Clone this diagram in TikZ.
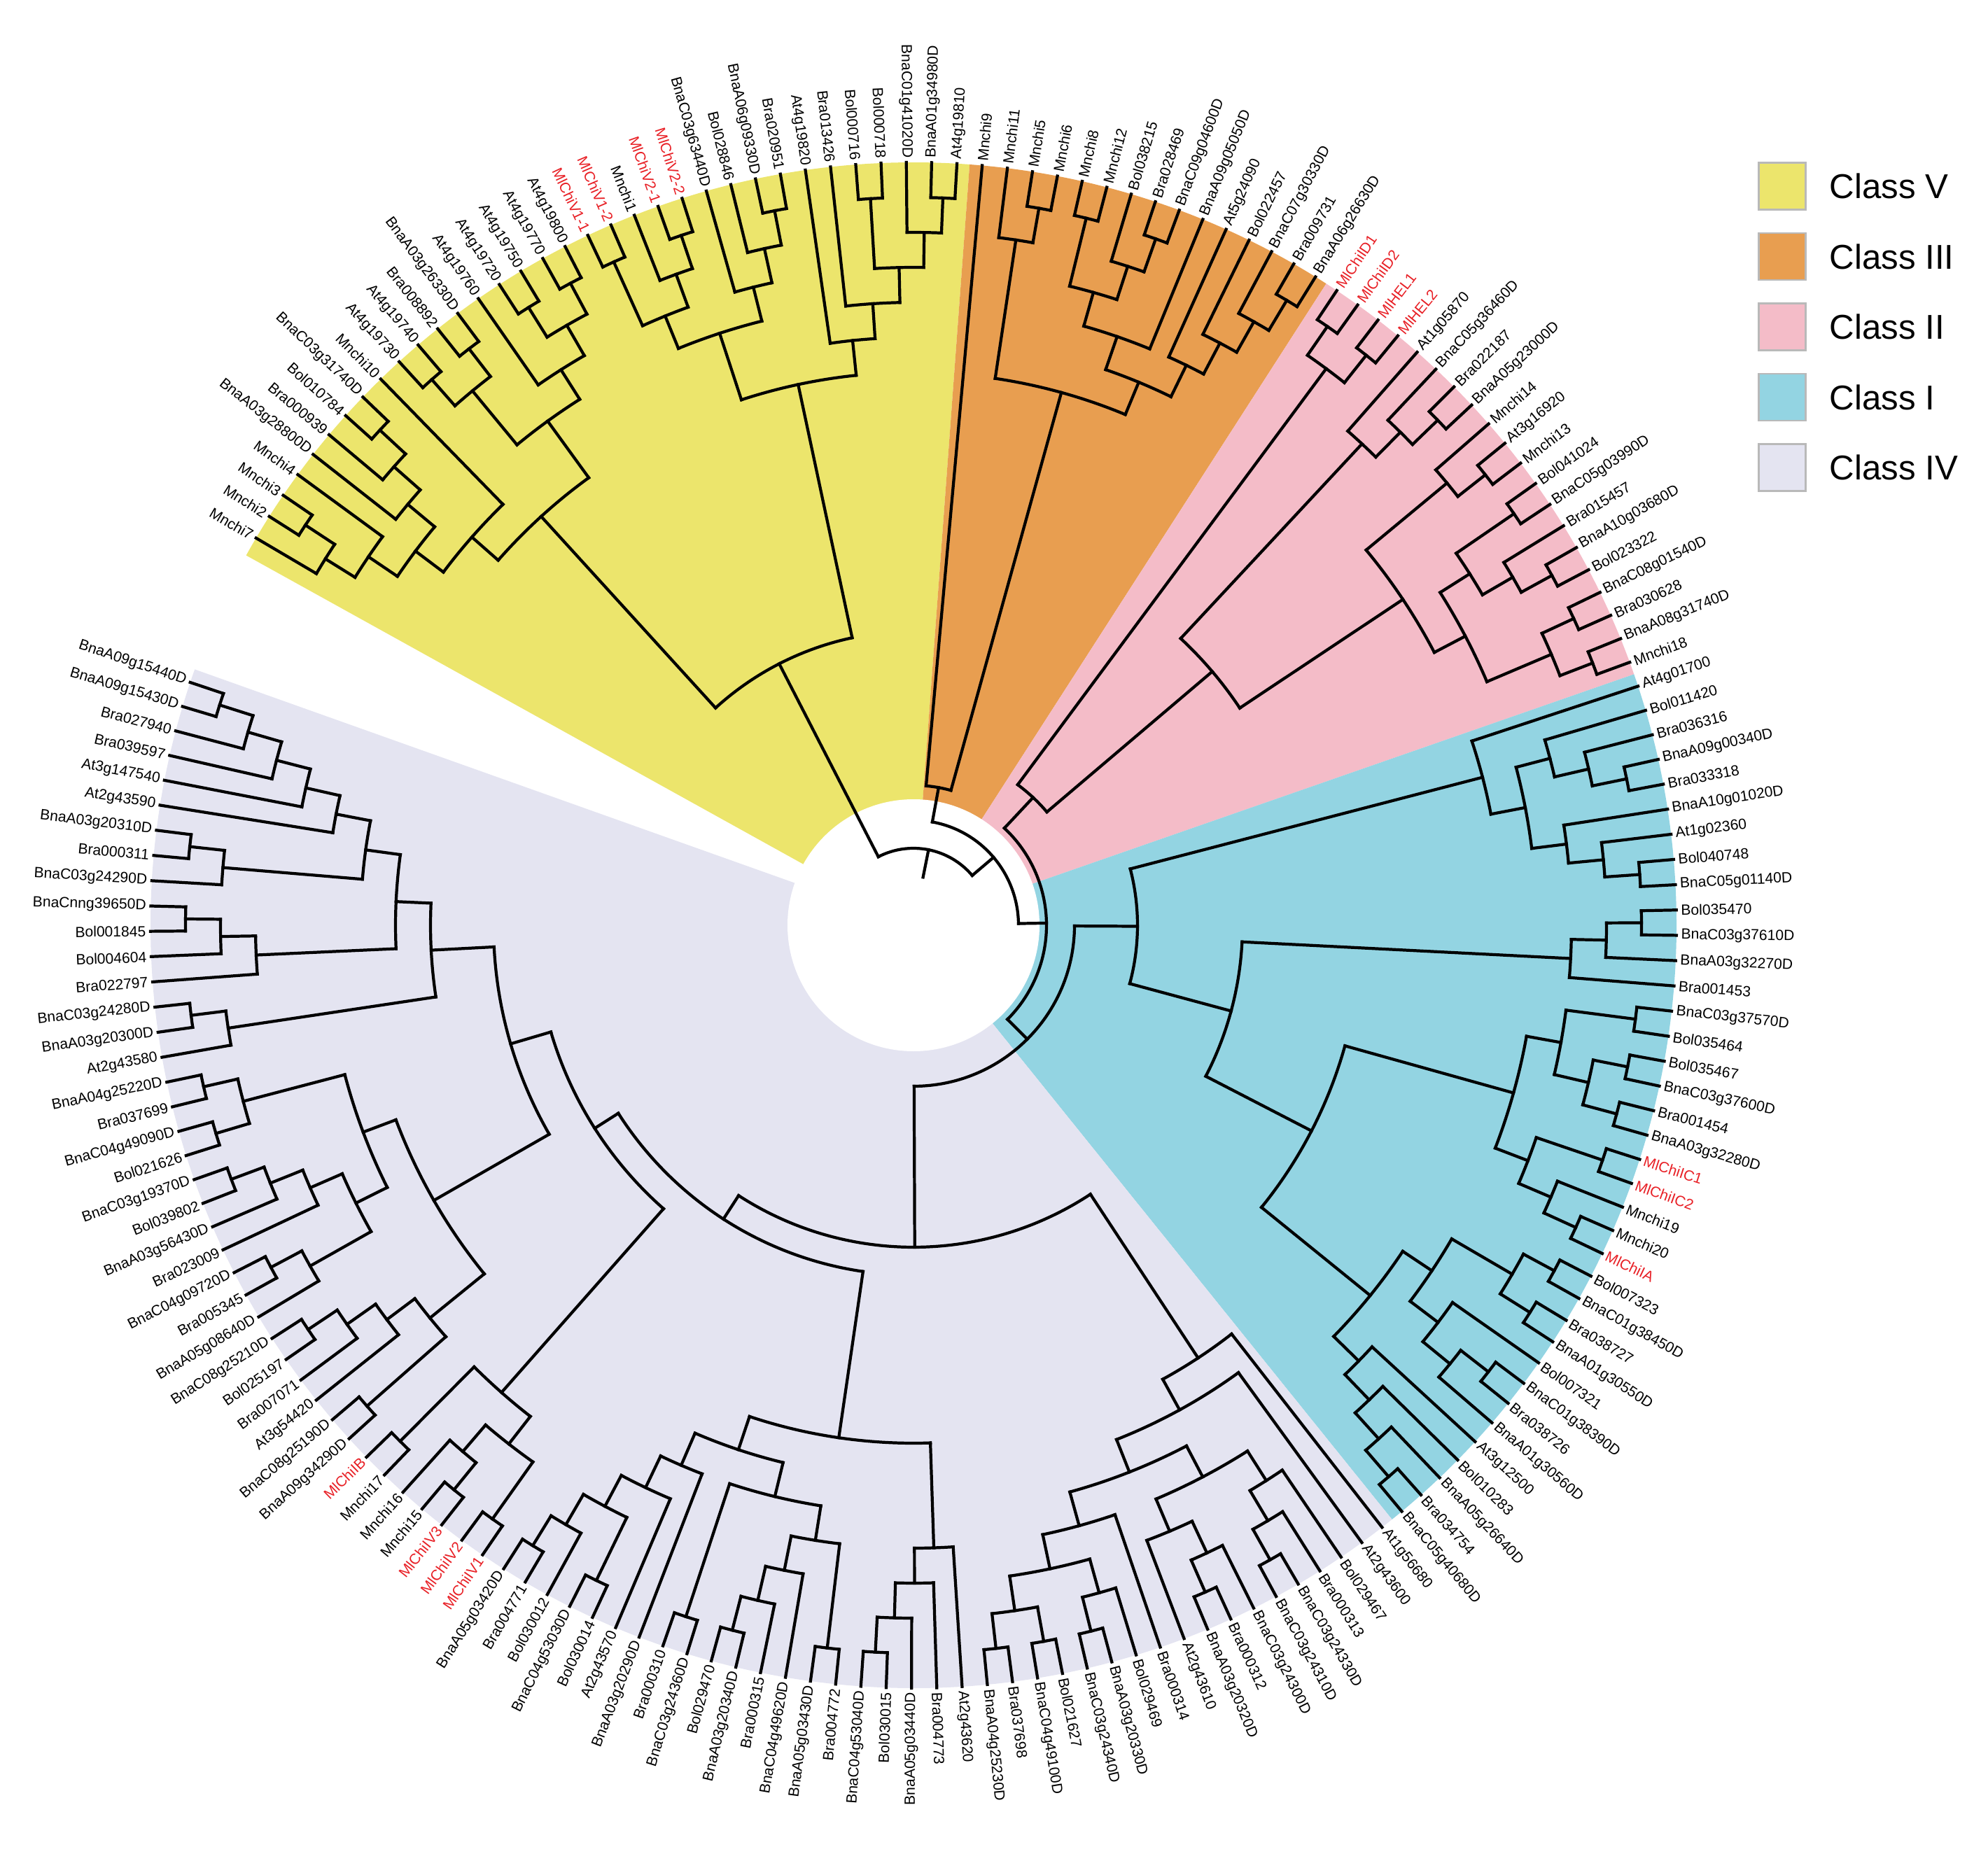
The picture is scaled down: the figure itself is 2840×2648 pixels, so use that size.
\documentclass[tikz,border=0pt]{standalone}
\usepackage{fontspec}
\setmainfont{Liberation Sans}

\definecolor{clsV}{RGB}{236,229,108}
\definecolor{clsIII}{RGB}{232,158,80}
\definecolor{clsII}{RGB}{244,188,200}
\definecolor{clsI}{RGB}{147,212,226}
\definecolor{clsIV}{RGB}{228,228,241}
\definecolor{mlred}{RGB}{232,32,38}

\tikzset{
  branch/.style={line width=1.2pt, line cap=rect},
  leaflab/.style={font=\fontsize{6}{7}\selectfont, inner sep=0pt},
  legbox/.style={draw=gray!55, line width=0.8pt, minimum size=0.67cm, inner sep=0pt},
  legtext/.style={font=\fontsize{14}{16}\selectfont, inner sep=0pt, anchor=west}
}

% tree geometry, in pixels of the reference
\def\Rt{1090}   % leaf tips
\def\Rl{1096}   % start of the labels
\def\Sg{50}     % one level
\def\Az{149.5}  % first leaf
\def\Dl{1.902}  % leaf spacing

\newcount\stk
\newcount\leafno
\newcount\ti

\def\tpush#1#2{\global\advance\stk1
  \expandafter\xdef\csname ta\the\stk\endcsname{#1}%
  \expandafter\xdef\csname tr\the\stk\endcsname{#2}}
\def\tleaf{\pgfmathsetmacro\tang{\Az-\Dl*\leafno}%
  \global\advance\leafno1 \tpush{\tang}{\Rt}}
\def\tclose#1{%
  \ti=\stk \edef\tmin{\Rt}%
  \loop
    \edef\tcr{\csname tr\the\ti\endcsname}%
  \ifdim\tcr pt>-0.5pt
    \ifdim\tcr pt<\tmin pt\relax\let\tmin\tcr\fi
    \advance\ti-1
  \repeat
  \edef\tlo{\the\numexpr\ti+1\relax}\edef\thi{\the\stk}%
  \edef\tfirst{\csname ta\tlo\endcsname}\edef\tlast{\csname ta\thi\endcsname}%
  \def\tnr{#1}%
  \ifx\tnr\empty\pgfmathsetmacro\tnr{\tmin-\Sg}\fi
  \foreach \kk in {\tlo,...,\thi}{%
    \edef\ka{\csname ta\kk\endcsname}\edef\kr{\csname tr\kk\endcsname}%
    \draw[branch] (\ka:\tnr) -- (\ka:\kr);}
  \draw[branch] (\tfirst:\tnr) arc[start angle=\tfirst, end angle=\tlast, radius=\tnr];
  \pgfmathsetmacro\tmid{(\tfirst+\tlast)/2}%
  \global\stk=\ti \global\advance\stk-1
  \tpush{\tmid}{\tnr}}
\def\tcloseR#1{\tclose{#1}\tparse}
% ( opens a clade, l is a leaf, ) closes it one level in, ]{r} closes it at radius r
\def\tparse#1{%
  \ifx#1\relax\def\tnext{}%
  \else\ifx#1(\def\tnext{\tpush{0}{-1}\tparse}%
  \else\ifx#1l\def\tnext{\tleaf\tparse}%
  \else\ifx#1)\def\tnext{\tclose{}\tparse}%
  \else\ifx#1]\def\tnext{\tcloseR}%
  \else\def\tnext{\tparse}%
  \fi\fi\fi\fi\fi
  \tnext}
\def\mlchk#1#2#3\relax{\def\lcol{black}\ifx M#1\ifx l#2\def\lcol{mlred}\fi\fi}

\begin{document}
\begin{tikzpicture}[x=0.01cm,y=0.01cm]
\useasboundingbox (-1305,-1326) rectangle (1535,1322);

% class sectors
\foreach \ca/\cb/\cc in {151/85.78/clsV, 85.78/57.25/clsIII, 57.25/19.21/clsII, 19.21/-51.16/clsI, -51.16/-199.6/clsIV}
  \fill[\cc] (0,0) -- (\ca:\Rt) arc[start angle=\ca, end angle=\cb, radius=\Rt] -- cycle;
\fill[white] (0,0) circle[radius=180];

% tree
\tparse
(
 ( ( ( ( ((l(ll))l) (l(l(ll))) ) l ) ( ((ll)(ll)) (l((ll)(ll))) ) ) ( ( ((ll)(l(ll))) (l(l(ll))) ) (l(l((ll)(l(ll))))) ) ]{420}
 (
  ( l ( (l(ll)) ( ( ((ll)(l(ll))) l ) (l(l(l(ll)))) ) ) ]{200}
  (
   ( ((ll)(ll)) ( (l(l(ll))) ( (l(ll)) ( ((ll)(l(ll))) ((ll)(ll)) ) ) ]{560} ]{250}
   (
    ( (l((l(l(ll)))(l(l(ll))))) ( (((ll)l)l) ( ( ((ll)((ll)(ll))) ((ll)(l(ll))) ) ( ( ((ll)(ll)) (l((ll)l)) ) (l(l(l(ll)))) ) ]{640} ]{470} ]{320}
    ( (l(l( ((l(l(ll)))((l(ll))l)) (l((l(ll))((ll)(ll)))) )))
      ( ( (l(l(l(ll)))) ( ( ((ll)(l(l(ll)))) (ll) ) (l(l((ll)(l(ll))))) ) )
        ( ( ((ll)((ll)l)) (ll) )
          ( ( ((ll)(l(l(ll)))) ( ((l(ll))(l(l(ll)))) ((ll)(ll)) ) )
            ( (l(ll)) ( (l(l(ll))) ( (l(ll)) (l(l(l(l(ll))))) ) ) ) ]{600} ]{540} ]{500} ]{460}
   ]{230}
  ]{190}
 ]{150}
]{110}
\relax
\edef\ra{\csname ta1\endcsname}
\draw[branch] (\ra:110) -- (\ra:70);

% leaf names
\foreach \nm [count=\i from 0] in {Mnchi7, Mnchi2, Mnchi3, Mnchi4, BnaA03g28800D, Bra000939, Bol010784, BnaC03g31740D, Mnchi10, At4g19730, At4g19740, Bra008892, BnaA03g26330D, At4g19760, At4g19720, At4g19750, At4g19770, At4g19800, MlChiV1-1, MlChiV1-2, Mnchi1, MlChiV2-1, MlChiV2-2, BnaC03g63440D, Bol028846, BnaA06g09330D, Bra020951, At4g19820, Bra013426, Bol000716, Bol000718, BnaC01g41020D, BnaA01g34980D, At4g19810,
  Mnchi9, Mnchi11, Mnchi5, Mnchi6, Mnchi8, Mnchi12, Bol038215, Bra028469, BnaC09g04600D, BnaA09g05050D, At5g24090, Bol022457, BnaC07g30330D, Bra009731, BnaA06g26630D,
  MlChiID1, MlChiID2, MlHEL1, MlHEL2, At1g05870, BnaC05g36460D, Bra022187, BnaA05g23000D, Mnchi14, At3g16920, Mnchi13, Bol041024, BnaC05g03990D, Bra015457, BnaA10g03680D, Bol023322, BnaC08g01540D, Bra030628, BnaA08g31740D, Mnchi18,
  At4g01700, Bol011420, Bra036316, BnaA09g00340D, Bra033318, BnaA10g01020D, At1g02360, Bol040748, BnaC05g01140D, Bol035470, BnaC03g37610D, BnaA03g32270D, Bra001453, BnaC03g37570D, Bol035464, Bol035467, BnaC03g37600D, Bra001454, BnaA03g32280D, MlChiIC1, MlChiIC2, Mnchi19, Mnchi20, MlChiIA, Bol007323, BnaC01g38450D, Bra038727, BnaA01g30550D, Bol007321, BnaC01g38390D, Bra038726, BnaA01g30560D, At3g12500, Bol010283, BnaA05g26640D, Bra034754, BnaC05g40680D,
  At1g56680, At2g43600, Bol029467, Bra000313, BnaC03g24330D, BnaC03g24310D, BnaC03g24300D, Bra000312, BnaA03g20320D, At2g43610, Bra000314, Bol029469, BnaA03g20330D, BnaC03g24340D, Bol021627, BnaC04g49100D, Bra037698, BnaA04g25230D, At2g43620, Bra004773, BnaA05g03440D, Bol030015, BnaC04g53040D, Bra004772, BnaA05g03430D, BnaC04g49620D, Bra000315, BnaA03g20340D, Bol029470, BnaC03g24360D, Bra000310, BnaA03g20290D, At2g43570, Bol030014, BnaC04g53030D, Bol030012, Bra004771, BnaA05g03420D, MlChiIV1, MlChiIV2, MlChiIV3, Mnchi15, Mnchi16, Mnchi17, MlChiIB, BnaA09g34290D, BnaC08g25190D, At3g54420, Bra007071, Bol025197, BnaC08g25210D, BnaA05g08640D, Bra005345, BnaC04g09720D, Bra023009, BnaA03g56430D, Bol039802, BnaC03g19370D, Bol021626, BnaC04g49090D, Bra037699, BnaA04g25220D, At2g43580, BnaA03g20300D, BnaC03g24280D, Bra022797, Bol004604, Bol001845, BnaCnng39650D, BnaC03g24290D, Bra000311, BnaA03g20310D, At2g43590, At3g147540, Bra039597, Bra027940, BnaA09g15430D, BnaA09g15440D}{%
  \pgfmathsetmacro\lang{\Az-\Dl*\i}%
  \pgfmathtruncatemacro\fl{and(mod(\lang+720,360)>90, mod(\lang+720,360)<270)}%
  \expandafter\mlchk\nm\relax
  \ifnum\fl=1
    \node[leaflab, text=\lcol, anchor=east, rotate=\lang+180] (lf\i) at (\lang:\Rl) {\nm};
  \else
    \node[leaflab, text=\lcol, anchor=west, rotate=\lang] (lf\i) at (\lang:\Rl) {\nm};
  \fi}

% legend
\foreach \cn/\cc [count=\j from 0] in {Class V/clsV, Class III/clsIII, Class II/clsII, Class I/clsI, Class IV/clsIV}{
  \node[legbox, fill=\cc] (bx\j) at (1241,1056-100.5*\j) {};
  \node[legtext] (lg\j) at (1308,1056-100.5*\j) {\cn};
}
\end{tikzpicture}
\end{document}
